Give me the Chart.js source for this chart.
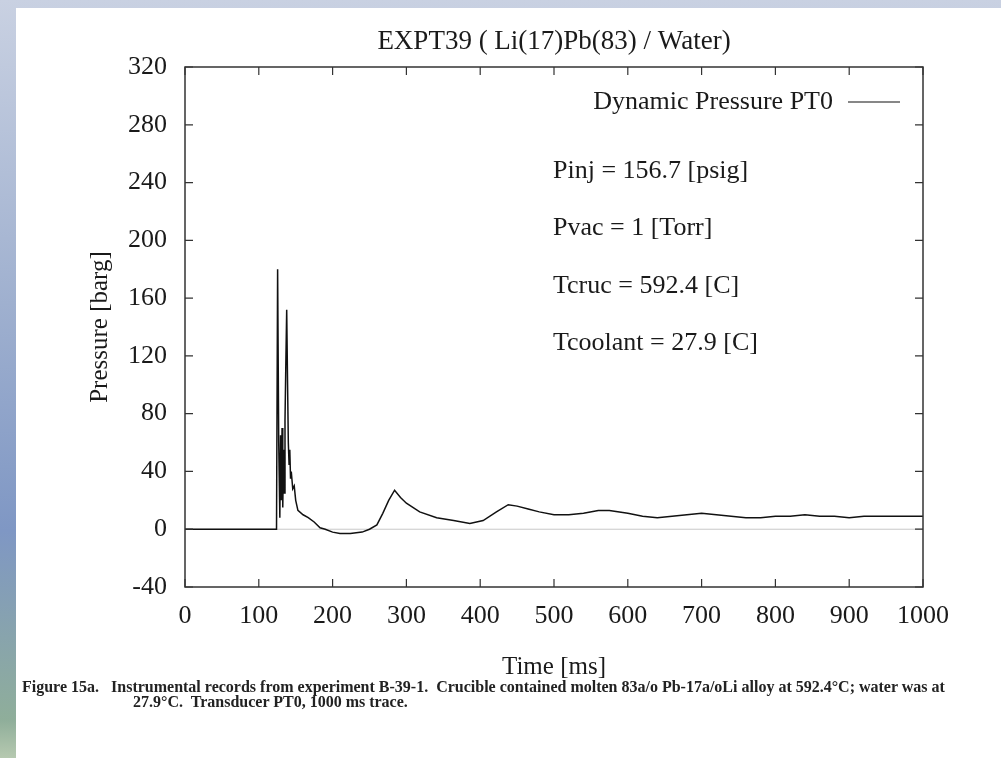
<!DOCTYPE html>
<html>
<head>
<meta charset="utf-8">
<script src="https://cdn.jsdelivr.net/npm/chart.js@4/dist/chart.umd.min.js"></script>
<style>
  html, body { margin: 0; padding: 0; }
  body {
    width: 1001px; height: 758px; overflow: hidden; position: relative;
    background: linear-gradient(180deg, #c9d1e2 0%, #9fb0cf 40%, #7f97c4 70%, #8fae9a 95%, #b6c9b0 100%);
  }
  #page { position: absolute; left: 16px; top: 8px; right: 0; bottom: 0; background: #fff; }
  #wrap { position: absolute; left: 0; top: 0; width: 1001px; height: 758px; }
  #caption {
    position: absolute; left: 22px; top: 679px; width: 975px;
    font-family: "Liberation Serif", serif; font-size: 16px; font-weight: bold;
    line-height: 15px; color: #222; white-space: pre;
  }
  #caption .second { padding-left: 111px; }
</style>
</head>
<body>
<div id="page"></div>
<div id="wrap"><canvas id="chart" width="1001" height="758"></canvas></div>
<div id="caption"><div>Figure 15a.   Instrumental records from experiment B-39-1.  Crucible contained molten 83a/o Pb-17a/oLi alloy at 592.4°C; water was at</div><div class="second">27.9°C.  Transducer PT0, 1000 ms trace.</div></div>
<script>
'use strict';

// trace (time in ms, pressure in barg)
let times = [0, 50, 100, 124, 125.5, 127, 128.5, 129.5, 130.5, 131.5, 132.5, 133.5, 134.5, 135.5, 136.5, 137.8, 139, 140, 141, 142, 143, 144, 146, 148, 150, 153, 160, 167, 175, 183, 190, 200, 210, 224, 240, 250, 260, 268, 276, 284, 292, 300, 318, 341, 364, 386, 404, 422, 438, 450, 465, 480, 500, 520, 540, 560, 575, 600, 620, 640, 660, 680, 700, 720, 740, 760, 780, 800, 820, 840, 860, 880, 900, 920, 940, 960, 980, 1000];
let pressures = [0, 0, 0, 0, 180, 60, 8, 65, 20, 70, 15, 55, 25, 75, 110, 152, 100, 60, 45, 55, 35, 40, 28, 30, 20, 13, 10, 8, 5, 1, 0, -2, -3, -3, -2, 0, 3, 11, 20, 27, 22, 18, 12, 8, 6, 4, 6, 12, 17, 16, 14, 12, 10, 10, 11, 13, 13, 11, 9, 8, 9, 10, 11, 10, 9, 8, 8, 9, 9, 10, 9, 9, 8, 9, 9, 9, 9, 9];

let xTicks = [0, 100, 200, 300, 400, 500, 600, 700, 800, 900, 1000];
let yTicks = [-40, 0, 40, 80, 120, 160, 200, 240, 280, 320];

let chartTitle = 'EXPT39 ( Li(17)Pb(83) / Water)';
let seriesName = 'Dynamic Pressure PT0';
let notes = ['Pinj = 156.7 [psig]', 'Pvac = 1 [Torr]', 'Tcruc = 592.4 [C]', 'Tcoolant = 27.9 [C]'];

let serif = '"Liberation Serif", "Times New Roman", serif';

let tracePoints = [];
for (let i = 0; i < times.length; i++) {
  tracePoints.push({ x: times[i], y: pressures[i] });
}

// gnuplot style frame: box with inward ticks on all sides, title, key and notes
const framePlugin = {
  id: 'frame',
  afterDatasetsDraw(chart) {
    let ctx = chart.ctx;
    let a = chart.chartArea;
    let xs = chart.scales.x;
    let ys = chart.scales.y;
    ctx.save();
    ctx.strokeStyle = '#333';
    ctx.lineWidth = 1.5;
    ctx.strokeRect(a.left, a.top, a.right - a.left, a.bottom - a.top);
    ctx.lineWidth = 1.2;
    ctx.beginPath();
    xTicks.forEach(function (v) {
      let px = xs.getPixelForValue(v);
      ctx.moveTo(px, a.bottom); ctx.lineTo(px, a.bottom - 8);
      ctx.moveTo(px, a.top); ctx.lineTo(px, a.top + 8);
    });
    yTicks.forEach(function (v) {
      let py = ys.getPixelForValue(v);
      ctx.moveTo(a.left, py); ctx.lineTo(a.left + 8, py);
      ctx.moveTo(a.right, py); ctx.lineTo(a.right - 8, py);
    });
    ctx.stroke();

    ctx.fillStyle = '#1a1a1a';
    ctx.textBaseline = 'middle';
    ctx.font = '27px ' + serif;
    ctx.textAlign = 'center';
    ctx.fillText(chartTitle, (a.left + a.right) / 2, 42);

    ctx.font = '26px ' + serif;
    ctx.textAlign = 'right';
    ctx.fillText(seriesName, a.right - 90, a.top + 35);
    ctx.beginPath();
    ctx.strokeStyle = '#111';
    ctx.lineWidth = 1.2;
    ctx.moveTo(a.right - 75, a.top + 35);
    ctx.lineTo(a.right - 23, a.top + 35);
    ctx.stroke();

    ctx.textAlign = 'left';
    notes.forEach(function (t, i) {
      ctx.fillText(t, 553, 171 + i * 57.5);
    });
    ctx.restore();
  }
};

let ctx = document.getElementById('chart');
new Chart(ctx, {
  type: 'line',
  data: {
    datasets: [
      {
        label: seriesName,
        data: tracePoints,
        borderColor: '#111',
        borderWidth: 1.5,
        pointRadius: 0,
        tension: 0,
        order: 1
      },
      {
        label: 'zero',
        data: [{ x: xTicks[0], y: 0 }, { x: xTicks[xTicks.length - 1], y: 0 }],
        borderColor: '#c8c8c8',
        borderWidth: 1,
        pointRadius: 0,
        order: 2
      }
    ]
  },
  options: {
    responsive: false,
    animation: false,
    layout: { padding: { left: 85, right: 78, top: 67, bottom: 76 } },
    plugins: {
      legend: { display: false },
      tooltip: { enabled: false }
    },
    scales: {
      x: {
        type: 'linear',
        min: 0,
        max: 1000,
        grid: { display: false },
        border: { display: false },
        afterBuildTicks: function (scale) { scale.ticks = xTicks.map(function (v) { return { value: v }; }); },
        afterFit: function (scale) { scale.height = 95; },
        ticks: {
          font: { family: serif, size: 26 }, color: '#1a1a1a', padding: 6, maxRotation: 0,
          callback: function (v) { return String(v); }
        },
        title: { display: true, text: 'Time [ms]', font: { family: serif, size: 25 }, color: '#1a1a1a', padding: 0 }
      },
      y: {
        min: -40,
        max: 320,
        grid: { display: false },
        border: { display: false },
        afterBuildTicks: function (scale) { scale.ticks = yTicks.map(function (v) { return { value: v }; }); },
        afterFit: function (scale) { scale.width = 100; },
        ticks: { font: { family: serif, size: 26 }, color: '#1a1a1a', padding: 10 },
        title: { display: true, text: 'Pressure [barg]', font: { family: serif, size: 25 }, color: '#1a1a1a', padding: 0 }
      }
    }
  },
  plugins: [framePlugin]
});
</script>
</body>
</html>
